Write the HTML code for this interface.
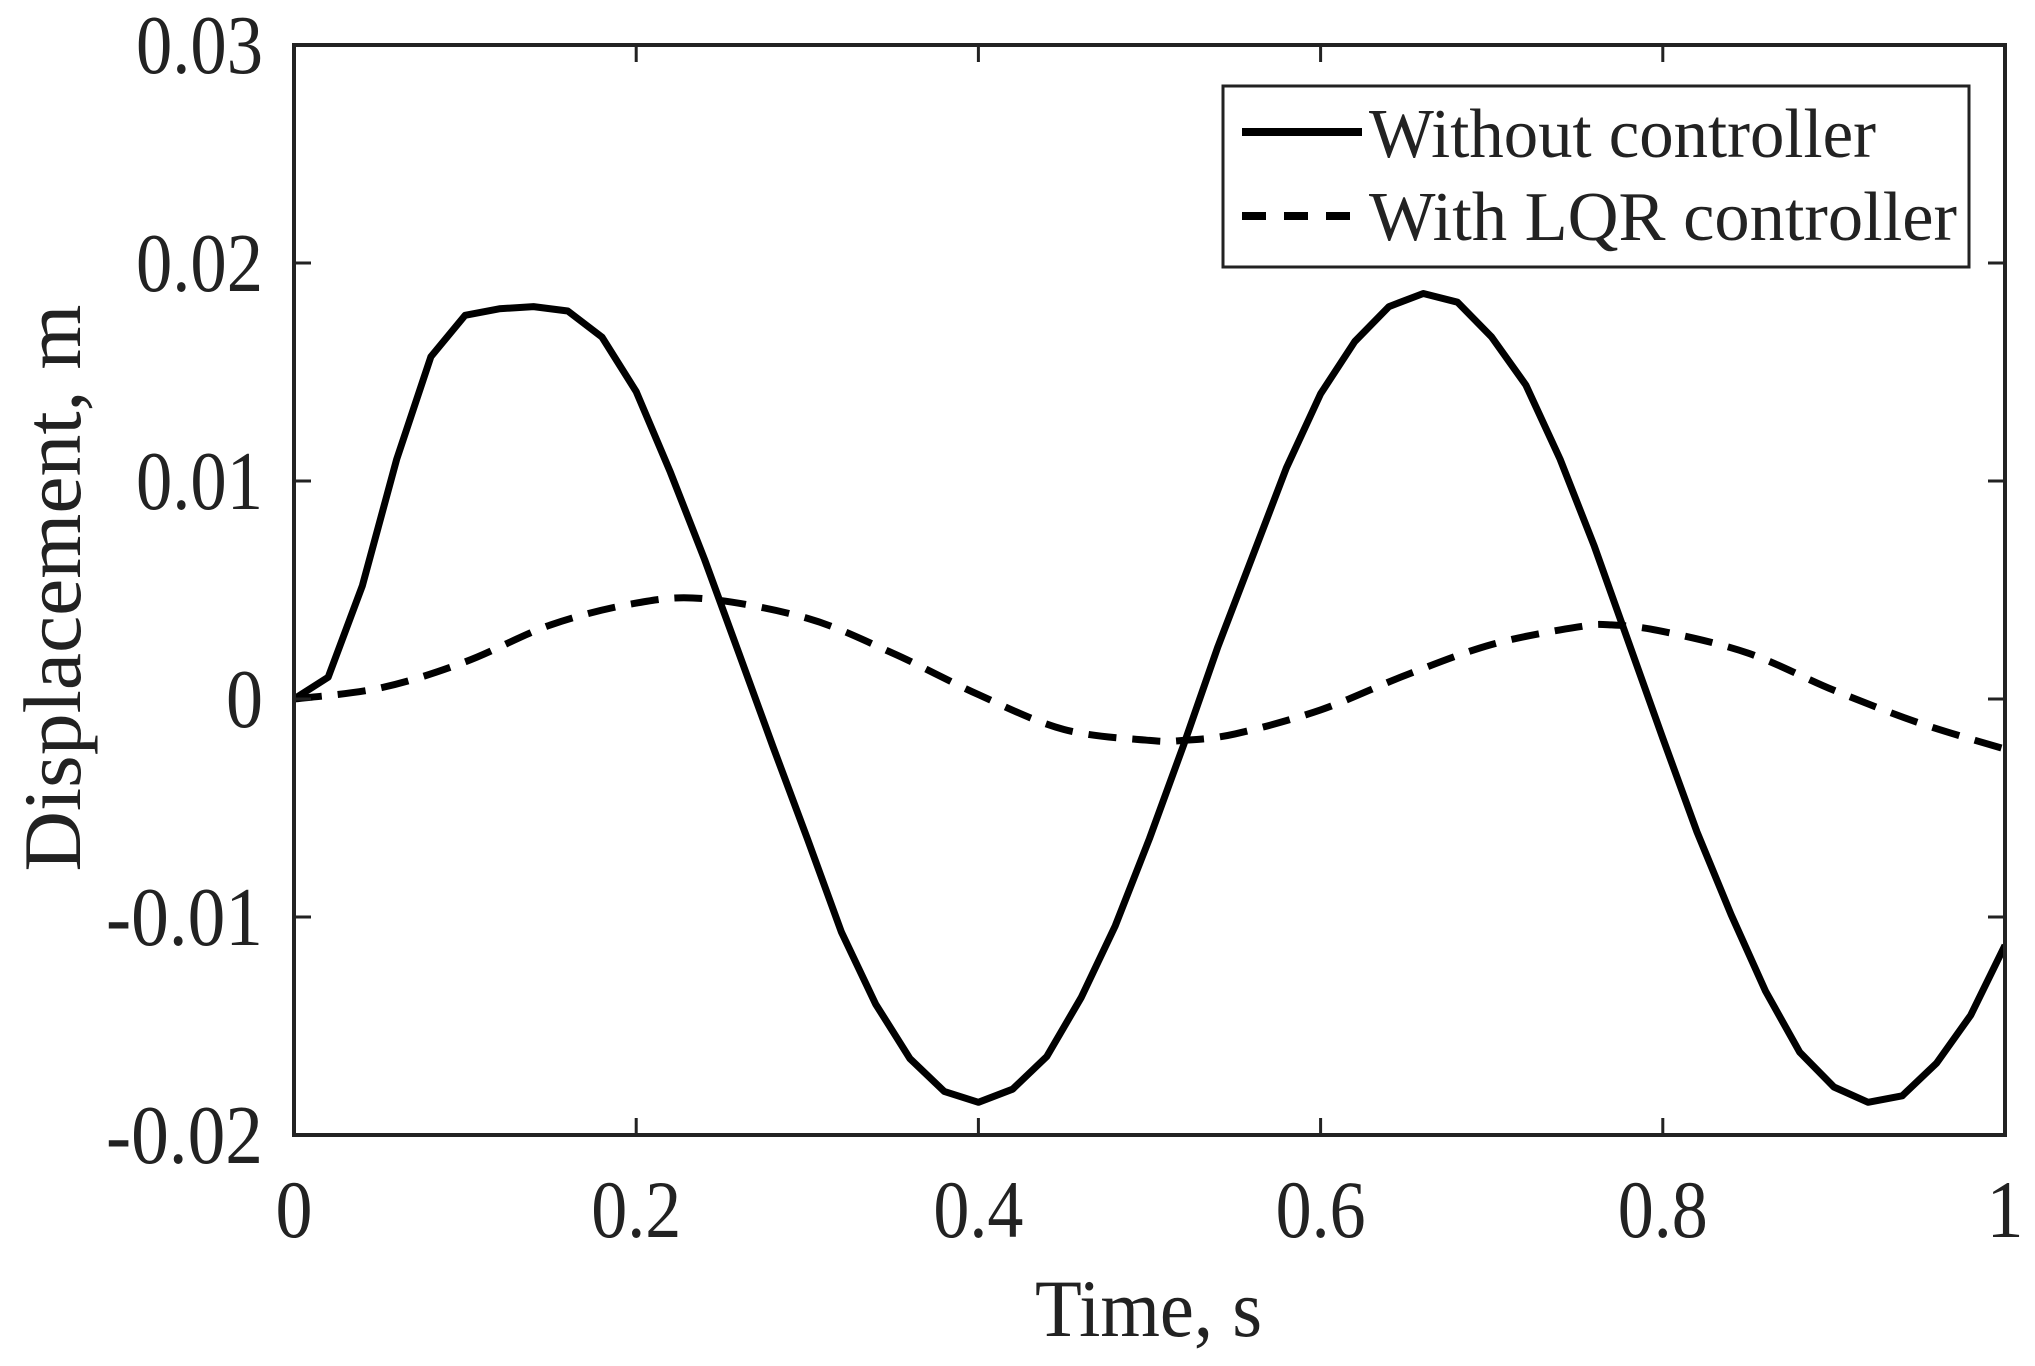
<!DOCTYPE html>
<html><head><meta charset="utf-8"><style>
html,body{margin:0;padding:0;background:#fff}
svg{display:block}
text{font-family:"Liberation Serif",serif;fill:#222}
</style></head><body>
<svg id="chart" width="2035" height="1366" viewBox="0 0 2035 1366" xmlns="http://www.w3.org/2000/svg"></svg>
<script>
const xTicks=[0,0.2,0.4,0.6,0.8,1];
const xTickLabels=["0","0.2","0.4","0.6","0.8","1"];
const yTicks=[-0.02,-0.01,0,0.01,0.02,0.03];
const yTickLabels=["-0.02","-0.01","0","0.01","0.02","0.03"];
const tSolid=[0,0.02,0.04,0.06,0.08,0.10,0.12,0.14,0.16,0.18,0.20,0.22,0.24,0.26,0.28,0.30,0.32,0.34,0.36,0.38,0.40,0.42,0.44,0.46,0.48,0.50,0.52,0.54,0.56,0.58,0.60,0.62,0.64,0.66,0.68,0.70,0.72,0.74,0.76,0.78,0.80,0.82,0.84,0.86,0.88,0.90,0.92,0.94,0.96,0.98,1.00];
const withoutController=[0,0.001,0.0052,0.011,0.0157,0.0176,0.0179,0.018,0.0178,0.0166,0.0141,0.0104,0.0064,0.0021,-0.0022,-0.0064,-0.0107,-0.014,-0.0165,-0.018,-0.0185,-0.0179,-0.0164,-0.0137,-0.0104,-0.0064,-0.0021,0.0024,0.0065,0.0106,0.014,0.0164,0.018,0.0186,0.0182,0.0166,0.0144,0.011,0.007,0.0026,-0.0018,-0.0061,-0.0099,-0.0134,-0.0162,-0.0178,-0.0185,-0.0182,-0.0167,-0.0145,-0.0113];
const tDashed=[0,0.05,0.1,0.15,0.2,0.24,0.3,0.35,0.4,0.45,0.5,0.52,0.55,0.6,0.65,0.7,0.75,0.77,0.8,0.85,0.9,0.95,1.0];
const withLQR=[0,0.0005,0.0017,0.0034,0.0044,0.0046,0.0037,0.0021,0.0002,-0.0014,-0.0019,-0.0019,-0.0016,-0.0005,0.0011,0.0025,0.0033,0.0034,0.0031,0.0021,0.0004,-0.0011,-0.0023];

const NS="http://www.w3.org/2000/svg";
const svg=document.getElementById('chart');
const L=294,R=2005,T=45,B=1135;
const X=v=>L+(v-0)/(1-0)*(R-L);
const Y=v=>B-(v+0.02)/(0.05)*(B-T);
function mk(tag,attrs,parent){const e=document.createElementNS(NS,tag);for(const k in attrs)e.setAttribute(k,attrs[k]);(parent||svg).appendChild(e);return e;}
function labelWidth(s){let w=0;for(const c of s){w+= c==='.'?16:(c==='-'?30:37);}return w;}

function smoothPath(xs,ys){
  const p=xs.map((t,i)=>[X(t),Y(ys[i])]);
  let d='M'+p[0][0].toFixed(1)+' '+p[0][1].toFixed(1);
  for(let i=0;i<p.length-1;i++){
    const p0=p[Math.max(0,i-1)],p1=p[i],p2=p[i+1],p3=p[Math.min(p.length-1,i+2)];
    const c1=[p1[0]+(p2[0]-p0[0])/6,p1[1]+(p2[1]-p0[1])/6];
    const c2=[p2[0]-(p3[0]-p1[0])/6,p2[1]-(p3[1]-p1[1])/6];
    d+=` C${c1[0].toFixed(1)} ${c1[1].toFixed(1)} ${c2[0].toFixed(1)} ${c2[1].toFixed(1)} ${p2[0].toFixed(1)} ${p2[1].toFixed(1)}`;
  }
  return d;
}
function pathFrom(xs,ys){return xs.map((t,i)=>(i?'L':'M')+X(t).toFixed(1)+' '+Y(ys[i]).toFixed(1)).join(' ');}
const clip=mk('clipPath',{id:'pc'});mk('rect',{x:L,y:T,width:R-L,height:B-T},clip);
const s1=mk('path',{d:pathFrom(tSolid,withoutController),fill:'none',stroke:'#000','stroke-width':7,'stroke-linejoin':'round','clip-path':'url(#pc)'});


const s2=mk('path',{d:smoothPath(tDashed,withLQR),fill:'none',stroke:'#000','stroke-width':7,'stroke-dasharray':'28 16','clip-path':'url(#pc)'});



const box=mk('rect',{x:L,y:T,width:R-L,height:B-T,fill:'none',stroke:'#222','stroke-width':4});


const tl=17;
xTicks.forEach((v,i)=>{
  const x=X(v);
  const tk=mk('path',{d:`M${x} ${B}V${B-tl}M${x} ${T}V${T+tl}`,stroke:'#222','stroke-width':3});
  
  
  const t=mk('text',{x:x,y:1237,'font-size':82,'text-anchor':'middle',textLength:labelWidth(xTickLabels[i]),lengthAdjust:'spacingAndGlyphs'});t.textContent=xTickLabels[i];
  
  
});
yTicks.forEach((v,i)=>{
  const y=Y(v);
  const tk=mk('path',{d:`M${L} ${y}H${L+tl}M${R} ${y}H${R-tl}`,stroke:'#222','stroke-width':3});
  
  
  const t=mk('text',{x:263,y:y+28,'font-size':84,'text-anchor':'end',textLength:labelWidth(yTickLabels[i]),lengthAdjust:'spacingAndGlyphs'});t.textContent=yTickLabels[i];
  
  
});
const xl=mk('text',{x:1035,y:1336,'font-size':82,textLength:227,lengthAdjust:'spacingAndGlyphs'});xl.textContent='Time, s';


const yl=mk('text',{x:0,y:0,'font-size':82,'text-anchor':'middle',textLength:567,lengthAdjust:'spacingAndGlyphs',transform:'translate(80,588) rotate(-90)'});yl.textContent='Displacement, m';



const lg=mk('g',{});


mk('rect',{x:1223,y:86,width:746,height:181,fill:'#fff',stroke:'#222','stroke-width':3},lg);
const e1=mk('g',{},lg);


mk('line',{x1:1242,y1:132,x2:1362,y2:132,stroke:'#000','stroke-width':8},e1);
const t1=mk('text',{x:1369,y:157,'font-size':70,textLength:507,lengthAdjust:'spacingAndGlyphs'},e1);t1.textContent='Without controller';
const e2=mk('g',{},lg);


mk('line',{x1:1242,y1:216,x2:1362,y2:216,stroke:'#000','stroke-width':8,'stroke-dasharray':'24 18'},e2);
const t2=mk('text',{x:1369,y:240,'font-size':70,textLength:588,lengthAdjust:'spacingAndGlyphs'},e2);t2.textContent='With LQR controller';
</script>
</body></html>
